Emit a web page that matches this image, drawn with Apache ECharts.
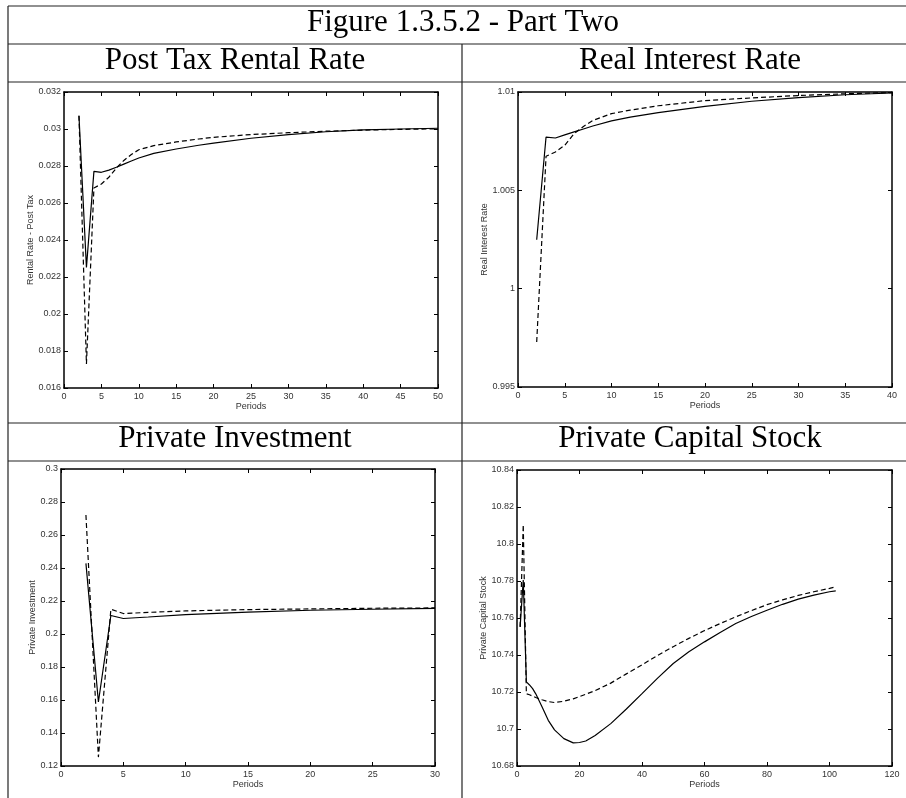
<!DOCTYPE html>
<html>
<head>
<meta charset="utf-8">
<script src="https://cdn.jsdelivr.net/npm/echarts@6/dist/echarts.min.js"></script>
<style>html,body{margin:0;padding:0;background:#fff}#c{width:906px;height:798px}</style>
</head>
<body>
<div id="c"></div>
<script>
// ---- Data ----
const figureTitle = 'Figure 1.3.5.2 - Part Two';
const panelTitles = ['Post Tax Rental Rate', 'Real Interest Rate', 'Private Investment', 'Private Capital Stock'];
const yNames = ['Rental Rate - Post Tax', 'Real Interest Rate', 'Private Investment', 'Private Capital Stock'];
const xName = 'Periods';

const xTicks1 = [0, 5, 10, 15, 20, 25, 30, 35, 40, 45, 50];
const yTicks1 = [0.016, 0.018, 0.02, 0.022, 0.024, 0.026, 0.028, 0.03, 0.032];
const periods1 = [2, 3, 4, 5, 6, 7, 8, 9, 10, 12, 15, 18, 20, 25, 30, 35, 40, 45, 50];
const rentalSolid = [0.03072, 0.02252, 0.02771, 0.02766, 0.02778, 0.02793, 0.02810, 0.02827, 0.02843, 0.02868, 0.02892, 0.02912, 0.02924, 0.02950, 0.02970, 0.02985, 0.02995, 0.03000, 0.03004];
const rentalDashed = [0.03072, 0.01730, 0.02681, 0.02703, 0.02739, 0.02789, 0.02830, 0.02862, 0.02888, 0.02910, 0.02930, 0.02946, 0.02955, 0.02970, 0.02980, 0.02988, 0.02994, 0.02998, 0.03001];

const xTicks2 = [0, 5, 10, 15, 20, 25, 30, 35, 40];
const yTicks2 = [0.995, 1, 1.005, 1.01];
const periods2 = [2, 3, 4, 5, 6, 7, 8, 10, 12, 15, 20, 25, 30, 35, 40];
const interestSolid = [1.00249, 1.00771, 1.00766, 1.00782, 1.00797, 1.00812, 1.00827, 1.00853, 1.00872, 1.00895, 1.00927, 1.00953, 1.00971, 1.00986, 1.00995];
const interestDashed = [0.99729, 1.00673, 1.00695, 1.00729, 1.00788, 1.00825, 1.00855, 1.00890, 1.00908, 1.00930, 1.00956, 1.00970, 1.00982, 1.00991, 1.00997];

const xTicks3 = [0, 5, 10, 15, 20, 25, 30];
const yTicks3 = [0.12, 0.14, 0.16, 0.18, 0.2, 0.22, 0.24, 0.26, 0.28, 0.3];
const periods3 = [2, 3, 4, 5, 7, 10, 15, 20, 25, 30];
const investSolid = [0.2428, 0.1588, 0.2112, 0.2094, 0.2103, 0.2117, 0.2133, 0.2144, 0.2150, 0.2155];
const investDashed = [0.2721, 0.1254, 0.2150, 0.2124, 0.2131, 0.2140, 0.2148, 0.2152, 0.2156, 0.2158];

const xTicks4 = [0, 20, 40, 60, 80, 100, 120];
const yTicks4 = [10.68, 10.7, 10.72, 10.74, 10.76, 10.78, 10.8, 10.82, 10.84];
const periods4 = [1, 2, 3, 4, 5, 6, 8, 10, 12, 15, 18, 20, 22, 25, 30, 35, 40, 45, 50, 55, 60, 65, 70, 75, 80, 85, 90, 95, 100, 102];
const capitalSolid = [10.7552, 10.7805, 10.7255, 10.7238, 10.7218, 10.7190, 10.7120, 10.7047, 10.6995, 10.6948, 10.6925, 10.6927, 10.6935, 10.6965, 10.7029, 10.7108, 10.7191, 10.7275, 10.7354, 10.7418, 10.7471, 10.7522, 10.7570, 10.7608, 10.7642, 10.7674, 10.7702, 10.7724, 10.7742, 10.7747];
const capitalDashed = [10.7552, 10.8105, 10.7190, 10.7185, 10.7178, 10.7170, 10.7158, 10.7148, 10.7143, 10.7150, 10.7163, 10.7175, 10.7188, 10.7207, 10.7248, 10.7298, 10.7347, 10.7398, 10.7445, 10.7490, 10.7532, 10.7570, 10.7606, 10.7640, 10.7672, 10.7698, 10.7722, 10.7742, 10.7760, 10.7768];

// ---- Build ----
const panels = [
  {xt: xTicks1, yt: yTicks1, px: periods1, s: rentalSolid, d: rentalDashed, grid: {left: 64, top: 92, width: 374, height: 296}, gap: 25},
  {xt: xTicks2, yt: yTicks2, px: periods2, s: interestSolid, d: interestDashed, grid: {left: 518, top: 92, width: 374, height: 295}, gap: 25},
  {xt: xTicks3, yt: yTicks3, px: periods3, s: investSolid, d: investDashed, grid: {left: 61, top: 469, width: 374, height: 297}, gap: 22},
  {xt: xTicks4, yt: yTicks4, px: periods4, s: capitalSolid, d: capitalDashed, grid: {left: 517, top: 470, width: 375, height: 296}, gap: 25}
];
const fmt = v => String(+(+v).toFixed(6));
const labelFont = {fontFamily: 'Liberation Sans, Arial, sans-serif', fontSize: 9, color: '#333'};
const axLine = {show: true, onZero: false, lineStyle: {color: '#000', width: 1.5}};
const tick = {show: true, inside: true, length: 4, lineStyle: {color: '#000', width: 1}};

const grids = [], xAxes = [], yAxes = [], series = [];
panels.forEach((p, i) => {
  grids.push(Object.assign({containLabel: false}, p.grid));
  const xmin = p.xt[0], xmax = p.xt[p.xt.length - 1], xint = +(p.xt[1] - p.xt[0]).toFixed(6);
  const ymin = p.yt[0], ymax = p.yt[p.yt.length - 1], yint = +(p.yt[1] - p.yt[0]).toFixed(6);
  xAxes.push({type: 'value', gridIndex: i, position: 'bottom', min: xmin, max: xmax, interval: xint,
    axisLine: axLine, axisTick: tick, splitLine: {show: false},
    axisLabel: Object.assign({margin: 4, formatter: fmt}, labelFont),
    name: xName, nameLocation: 'middle', nameGap: 12, nameTextStyle: labelFont});
  xAxes.push({type: 'value', gridIndex: i, position: 'top', min: xmin, max: xmax, interval: xint,
    axisLine: axLine, axisTick: tick, splitLine: {show: false}, axisLabel: {show: false}});
  yAxes.push({type: 'value', gridIndex: i, position: 'left', min: ymin, max: ymax, interval: yint,
    axisLine: axLine, axisTick: tick, splitLine: {show: false},
    axisLabel: Object.assign({margin: 3, formatter: fmt}, labelFont),
    name: yNames[i], nameLocation: 'middle', nameRotate: 90, nameGap: p.gap, nameTextStyle: labelFont});
  yAxes.push({type: 'value', gridIndex: i, position: 'right', min: ymin, max: ymax, interval: yint,
    axisLine: axLine, axisTick: tick, splitLine: {show: false}, axisLabel: {show: false}});
  series.push({type: 'line', xAxisIndex: 2 * i, yAxisIndex: 2 * i, showSymbol: false, symbol: 'none',
    data: p.px.map((x, k) => [x, p.s[k]]), lineStyle: {color: '#000', width: 1.2, type: 'solid'}, z: 3});
  series.push({type: 'line', xAxisIndex: 2 * i, yAxisIndex: 2 * i, showSymbol: false, symbol: 'none',
    data: p.px.map((x, k) => [x, p.d[k]]), lineStyle: {color: '#000', width: 1.2, type: [5, 3]}, z: 4});
});

const lineStyle = {stroke: '#222', lineWidth: 1.2};
const hl = (y) => ({type: 'line', shape: {x1: 8, y1: y, x2: 906, y2: y}, style: lineStyle, silent: true});
const vl = (x, y1) => ({type: 'line', shape: {x1: x, y1: y1, x2: x, y2: 798}, style: lineStyle, silent: true});
const serif = 'Liberation Serif, Times New Roman, serif';
const ttl = (txt, x, y) => ({type: 'text', x: x, y: y, style: {text: txt, font: '31px ' + serif, fill: '#000', align: 'center', verticalAlign: 'middle'}, silent: true});

const graphic = [
  hl(6), hl(44), hl(82), hl(423), hl(461), vl(8, 6), vl(462, 44),
  ttl(figureTitle, 463, 22.5),
  ttl(panelTitles[0], 235, 60.5), ttl(panelTitles[1], 690, 60.5),
  ttl(panelTitles[2], 235, 438.5), ttl(panelTitles[3], 690, 438.5)
];

const chart = echarts.init(document.getElementById('c'), null, {renderer: 'canvas'});
chart.setOption({animation: false, backgroundColor: '#fff', grid: grids, xAxis: xAxes, yAxis: yAxes, series: series, graphic: graphic});
</script>
</body>
</html>
